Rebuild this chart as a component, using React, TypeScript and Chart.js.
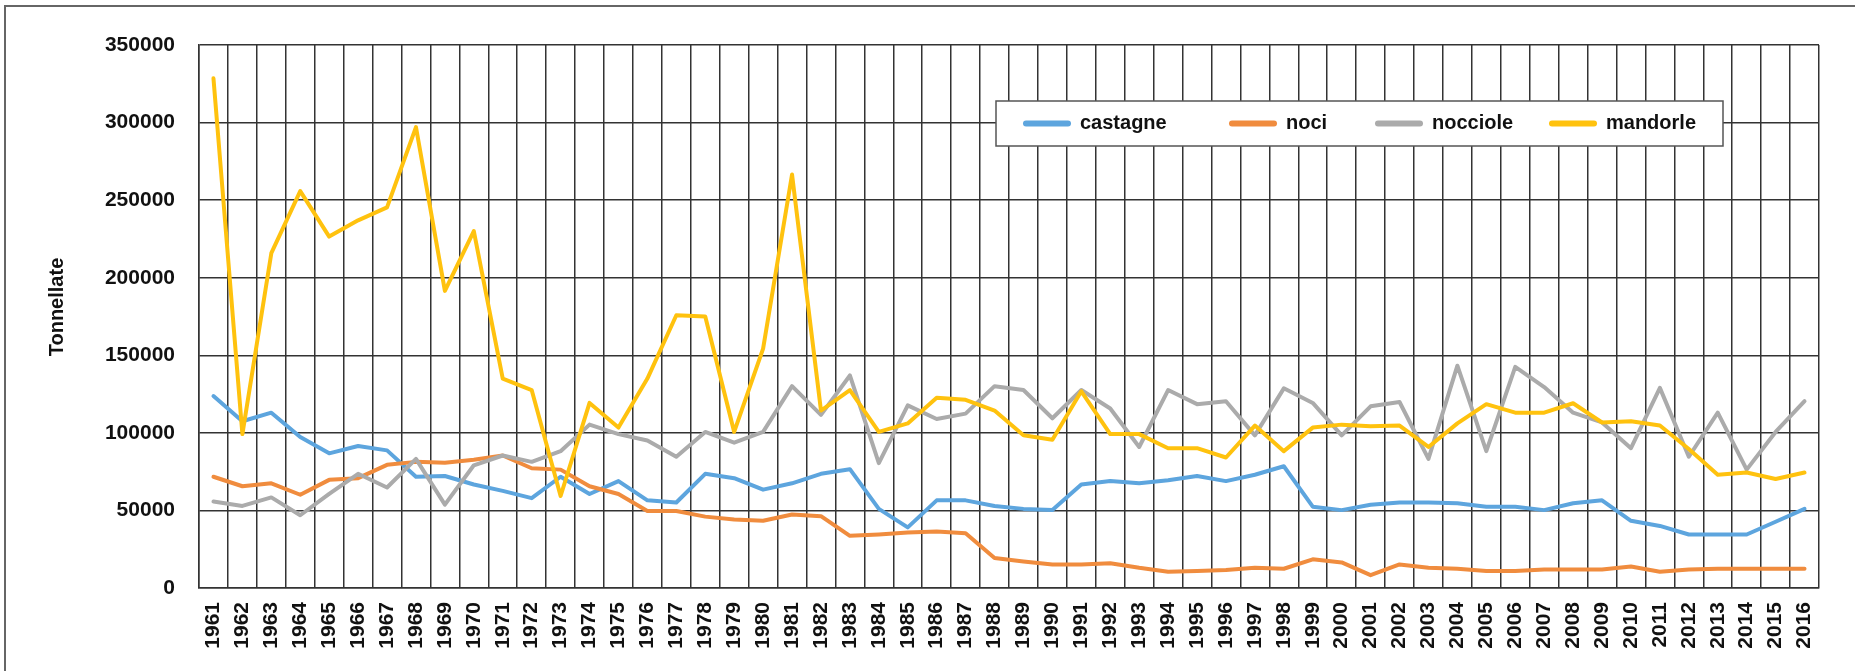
import React, { useEffect, useRef } from "react";
import { Chart, registerables } from "chart.js";

Chart.register(...registerables);

const years = [
  "1961","1962","1963","1964","1965","1966","1967","1968","1969","1970",
  "1971","1972","1973","1974","1975","1976","1977","1978","1979","1980",
  "1981","1982","1983","1984","1985","1986","1987","1988","1989","1990",
  "1991","1992","1993","1994","1995","1996","1997","1998","1999","2000",
  "2001","2002","2003","2004","2005","2006","2007","2008","2009","2010",
  "2011","2012","2013","2014","2015","2016",
];

const castagne = [
  123700,107500,113000,97300,86800,91500,88700,71700,72200,66700,62600,57900,71700,60600,
  68900,56500,55100,73600,70800,63400,67500,73600,76600,51000,39100,56500,56500,52900,51000,50200,66700,68900,67500,69500,72200,
  68900,73000,78500,52400,50200,53700,55100,55100,54600,52400,52400,50200,54600,56500,43300,40000,34500,34500,34500,42700,51000,
];

const noci = [
  71700,65600,67500,60100,69700,70800,79400,81300,80800,82700,85400,77200,76300,65600,
  60600,49600,49600,46000,44100,43300,47400,46300,33600,34500,35800,36400,35300,19300,17100,15200,15200,16000,13000,10500,11000,
  11600,13000,12400,18500,16500,8300,15200,13000,12400,11000,11000,11900,11900,11900,13800,10500,11900,12400,12400,12400,12400,
];

const nocciole = [
  55700,52900,58400,46900,60600,73600,64800,83200,53700,79100,85400,81300,88200,105300,
  99200,95100,84600,100600,93700,100600,130100,111600,137000,80500,117700,108900,112400,130100,127600,109400,127600,115700,90900,127600,118500,
  120400,98400,128700,119300,98400,117100,119900,83200,143300,88200,142500,129500,113000,106700,90100,129000,84600,113000,76300,100600,120400,
];

const mandorle = [
  328500,99200,215800,255800,226500,237000,245300,297100,191500,230100,135000,127600,59300,119300,
  103400,135000,175800,175000,100600,154300,266500,114400,127600,100600,106100,122600,121300,114400,98400,95600,126800,99200,99200,90100,90100,
  84100,104700,88200,103400,105300,104200,104700,90900,106100,118500,113000,113000,119100,106700,107500,104700,89600,73000,74400,70300,74400,
];

const seriesLabels = ["castagne", "noci", "nocciole", "mandorle"];
const seriesColors = ["#5DA5DE", "#F08C3E", "#ABABAB", "#FFC20E"];
const yTicks = [0, 50000, 100000, 150000, 200000, 250000, 300000, 350000];
const yTitle = "Tonnellate";

const FONT = "'Liberation Sans', Arial, sans-serif";
const GRID = "#333333";
const TEXT = "#111111";

const legendBoxPlugin = {
  id: "legendBox",
  afterDraw(chart: any) {
    const ctx = chart.ctx;
    const box = { left: 996, top: 101, right: 1723, bottom: 146 };
    const itemStarts = [27, 233, 379, 553];
    ctx.save();
    ctx.fillStyle = "#ffffff";
    ctx.fillRect(box.left, box.top, box.right - box.left, box.bottom - box.top);
    ctx.strokeStyle = "#555555";
    ctx.lineWidth = 1.5;
    ctx.strokeRect(box.left, box.top, box.right - box.left, box.bottom - box.top);
    const cy = (box.top + box.bottom) / 2;
    chart.data.datasets.forEach((ds: any, i: number) => {
      const x0 = box.left + itemStarts[i];
      ctx.strokeStyle = ds.borderColor;
      ctx.lineWidth = 6;
      ctx.lineCap = "round";
      ctx.beginPath();
      ctx.moveTo(x0 + 3, cy);
      ctx.lineTo(x0 + 45, cy);
      ctx.stroke();
      ctx.fillStyle = TEXT;
      ctx.font = `bold 20px ${FONT}`;
      ctx.textBaseline = "middle";
      ctx.textAlign = "left";
      ctx.fillText(ds.label, x0 + 57, cy);
    });
    ctx.restore();
  },
};

const yTitlePlugin = {
  id: "yTitle",
  afterDraw(chart: any) {
    const ctx = chart.ctx;
    ctx.save();
    ctx.translate(57, 307);
    ctx.rotate(-Math.PI / 2);
    ctx.fillStyle = TEXT;
    ctx.font = `bold 20px ${FONT}`;
    ctx.textAlign = "center";
    ctx.textBaseline = "middle";
    ctx.fillText(yTitle, 0, 0);
    ctx.restore();
  },
};

export default function App() {
  const canvasRef = useRef<HTMLCanvasElement | null>(null);

  useEffect(() => {
    if (!canvasRef.current) return;
    const seriesData = [castagne, noci, nocciole, mandorle];
    const chart = new Chart(canvasRef.current, {
      type: "line",
      data: {
        labels: years,
        datasets: seriesLabels.map((label, i) => ({
          label,
          data: seriesData[i],
          borderColor: seriesColors[i],
          backgroundColor: seriesColors[i],
          borderWidth: 4,
          pointRadius: 0,
          pointHoverRadius: 0,
          tension: 0,
          fill: false,
          borderJoinStyle: "round" as const,
          borderCapStyle: "round" as const,
          order: 4 - i,
        })),
      },
      options: {
        responsive: false,
        animation: false,
        devicePixelRatio: 1,
        layout: { padding: { left: 35, top: 45, right: 36, bottom: 0 } },
        plugins: {
          legend: { display: false },
          tooltip: { enabled: false },
        },
        scales: {
          x: {
            type: "category",
            offset: true,
            grid: { offset: true, color: GRID, lineWidth: 1.5, drawTicks: false },
            border: { color: GRID, width: 1.5 },
            ticks: {
              autoSkip: false,
              minRotation: 90,
              maxRotation: 90,
              padding: 14,
              color: TEXT,
              font: { family: FONT, size: 21, weight: "bold" },
            },
            afterFit(scale: any) {
              scale.height = 83;
            },
          },
          y: {
            min: 0,
            max: 350000,
            grid: { color: GRID, lineWidth: 1.5, drawTicks: false },
            border: { color: GRID, width: 1.5 },
            afterBuildTicks(scale: any) {
              scale.ticks = yTicks.map((v) => ({ value: v }));
            },
            ticks: {
              padding: 24,
              color: TEXT,
              font: { family: FONT, size: 21, weight: "bold" },
              callback: (v: any) => String(v),
            },
            title: { display: false },
            afterFit(scale: any) {
              scale.width = 164;
            },
          },
        },
      },
      plugins: [legendBoxPlugin, yTitlePlugin],
    });
    return () => chart.destroy();
  }, []);

  return (
    <div
      style={{
        position: "absolute",
        left: 0,
        top: 0,
        width: 1855,
        height: 671,
        overflow: "hidden",
        background: "#ffffff",
      }}
    >
      <div
        style={{
          position: "absolute",
          left: 4,
          top: 5,
          width: 1900,
          height: 800,
          border: "2px solid #666666",
          boxSizing: "border-box",
        }}
      />
      <canvas
        ref={canvasRef}
        width={1855}
        height={671}
        style={{ position: "absolute", left: 0, top: 0, width: 1855, height: 671 }}
      />
    </div>
  );
}
